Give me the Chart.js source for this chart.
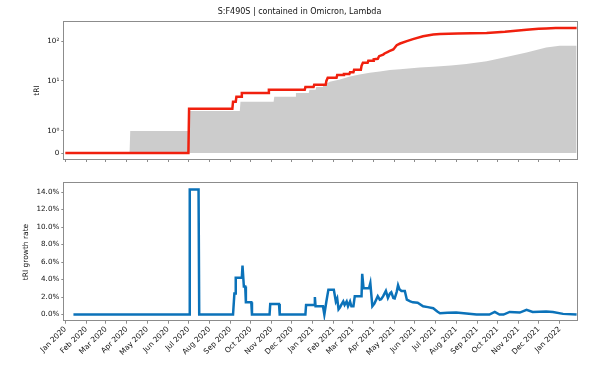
<!DOCTYPE html>
<html lang="en">
<head>
  <meta charset="UTF-8" />
  <title>S:F490S | tRI</title>
  <script src="https://cdn.jsdelivr.net/npm/chart.js"></script>
  <style>
    body { margin: 0; background: #fff; }
    canvas { display: block; }
  </style>
</head>
<body>
  <canvas id="triChart" width="599" height="170"></canvas>
  <canvas id="growthChart" width="599" height="209"></canvas>

  <script>
    // ---- data ----
    const chartTitle = 'S:F490S | contained in Omicron, Lambda';

    const xTickDates = ['2020-01-01', '2020-02-01', '2020-03-01', '2020-04-01', '2020-05-01', '2020-06-01',
      '2020-07-01', '2020-08-01', '2020-09-01', '2020-10-01', '2020-11-01', '2020-12-01',
      '2021-01-01', '2021-02-01', '2021-03-01', '2021-04-01', '2021-05-01', '2021-06-01',
      '2021-07-01', '2021-08-01', '2021-09-01', '2021-10-01', '2021-11-01', '2021-12-01', '2022-01-01'];
    const xTickLabels = ['Jan 2020', 'Feb 2020', 'Mar 2020', 'Apr 2020', 'May 2020', 'Jun 2020',
      'Jul 2020', 'Aug 2020', 'Sep 2020', 'Oct 2020', 'Nov 2020', 'Dec 2020',
      'Jan 2021', 'Feb 2021', 'Mar 2021', 'Apr 2021', 'May 2021', 'Jun 2021',
      'Jul 2021', 'Aug 2021', 'Sep 2021', 'Oct 2021', 'Nov 2021', 'Dec 2021', 'Jan 2022'];

    // observed tRI (red)
    const triDates = ['2020-01-01', '2020-07-01', '2020-07-02', '2020-09-04', '2020-09-05', '2020-09-09', '2020-09-10',
      '2020-09-17', '2020-09-18', '2020-10-27', '2020-10-28', '2020-12-20', '2020-12-21', '2021-01-02', '2021-01-03',
      '2021-01-20', '2021-01-21', '2021-01-23', '2021-02-05', '2021-02-06', '2021-02-15', '2021-02-16', '2021-02-24',
      '2021-02-25', '2021-03-02', '2021-03-03', '2021-03-13', '2021-03-14', '2021-03-16', '2021-03-23', '2021-03-24',
      '2021-03-31', '2021-04-01', '2021-04-07', '2021-04-09', '2021-04-15', '2021-04-17', '2021-04-22', '2021-04-24',
      '2021-04-30', '2021-05-02', '2021-05-05', '2021-05-10', '2021-05-20', '2021-05-29', '2021-06-13', '2021-06-28',
      '2021-07-08', '2021-08-03', '2021-08-23', '2021-09-15', '2021-10-12', '2021-11-13', '2021-12-01', '2021-12-12',
      '2021-12-26', '2022-01-26'];
    const triValues = [0, 0, 2, 2, 3, 3, 4,
      4, 5, 5, 6, 6, 7, 7, 8,
      8, 10, 12, 12, 14, 14, 15, 15,
      16.5, 16.5, 19, 19, 24, 28.5, 28.5, 32,
      32, 35, 36, 42, 46, 49, 54, 56,
      62, 68, 79, 87, 100, 112, 132, 146,
      151, 155, 157, 161, 172, 192, 203, 208,
      212, 214];

    // expected tRI (grey area)
    const expDates = ['2020-01-01', '2020-04-05', '2020-04-06', '2020-07-01', '2020-07-02', '2020-09-15', '2020-09-16',
      '2020-11-04', '2020-11-05', '2020-12-06', '2020-12-07', '2020-12-26', '2020-12-27', '2021-01-05', '2021-01-06',
      '2021-01-15', '2021-01-16', '2021-01-20', '2021-01-26', '2021-02-10', '2021-02-25', '2021-03-11', '2021-03-26',
      '2021-04-10', '2021-04-25', '2021-05-10', '2021-06-08', '2021-06-28', '2021-07-24', '2021-08-16', '2021-09-15',
      '2021-10-14', '2021-11-13', '2021-12-12', '2022-01-01', '2022-01-26'];
    const expValues = [0, 0, 1, 1, 1.9, 1.9, 3,
      3, 4, 4, 5, 5, 6, 6, 7,
      7, 8, 8.2, 9.5, 10.8, 13, 14.5, 16,
      17.3, 18.7, 19.8, 21.8, 22.8, 24.3, 26.5, 31.4,
      40, 52, 69, 76, 77];
    const triTicks = [0, 1, 10, 100];
    const triTickLabels = ['0', '10\u2070', '10\u00b9', '10\u00b2'];

    // tRI growth rate (%)
    const rateDates = ['2020-01-13', '2020-07-02', '2020-07-03', '2020-07-16', '2020-07-17', '2020-09-05', '2020-09-07',
      '2020-09-08', '2020-09-09', '2020-09-18', '2020-09-19', '2020-09-21', '2020-09-23', '2020-09-24', '2020-10-02',
      '2020-10-03', '2020-10-29', '2020-10-30', '2020-11-12', '2020-11-13', '2020-12-21', '2020-12-22', '2021-01-03',
      '2021-01-04', '2021-01-05', '2021-01-16', '2021-01-18', '2021-01-21', '2021-01-24', '2021-02-01', '2021-02-04',
      '2021-02-06', '2021-02-08', '2021-02-10', '2021-02-12', '2021-02-15', '2021-02-17', '2021-02-20', '2021-02-22',
      '2021-02-25', '2021-02-27', '2021-03-02', '2021-03-04', '2021-03-14', '2021-03-15', '2021-03-17', '2021-03-25',
      '2021-03-27', '2021-03-30', '2021-04-02', '2021-04-07', '2021-04-10', '2021-04-12', '2021-04-15', '2021-04-19',
      '2021-04-22', '2021-04-25', '2021-04-27', '2021-04-30', '2021-05-02', '2021-05-05', '2021-05-07', '2021-05-09',
      '2021-05-12', '2021-05-17', '2021-05-20', '2021-05-25', '2021-05-29', '2021-06-05', '2021-06-13', '2021-06-20',
      '2021-06-28', '2021-07-04', '2021-07-08', '2021-07-19', '2021-08-01', '2021-08-16', '2021-08-31', '2021-09-19',
      '2021-09-27', '2021-10-04', '2021-10-10', '2021-10-19', '2021-11-03', '2021-11-13', '2021-11-22', '2021-12-12',
      '2021-12-22', '2022-01-06', '2022-01-26'];
    const rateValues = [0, 0, 14.29, 14.29, 0, 0, 2.4,
      2.4, 4.2, 4.2, 5.6, 3.2, 3.2, 1.4, 1.4,
      0, 0, 1.2, 1.2, 0, 0, 1.1, 1.1,
      2.0, 0.95, 0.95, 0, 1.5, 2.85, 2.85, 1.5,
      1.85, 0.6, 0.8, 1.1, 1.5, 1.1, 1.5, 0.95,
      1.5, 0.95, 0.95, 2.1, 2.1, 4.65, 3.0, 3.0,
      3.6, 0.95, 1.25, 2.1, 1.7, 1.75, 2.1, 2.7,
      1.9, 2.4, 2.55, 1.9, 1.85, 2.6, 3.35, 2.9,
      2.7, 2.7, 1.7, 1.5, 1.4, 1.35, 0.95, 0.85,
      0.72, 0.35, 0.15, 0.2, 0.23, 0.12, 0, 0,
      0.3, 0, 0, 0.3, 0.23, 0.53, 0.3, 0.34,
      0.3, 0.08, 0];
    const rateTicks = [0, 2, 4, 6, 8, 10, 12, 14];

    // ---- helpers ----
    const FONT = 'DejaVu Sans';
    const X_MIN = Date.UTC(2019, 11, 30, 12);
    const X_MAX = Date.UTC(2022, 0, 26, 14);

    const toPoints = (dates, values) => dates.map((d, i) => ({ x: Date.parse(d), y: values[i] }));

    // matplotlib style symlog, linthresh 2, base 10
    const LINTHRESH = 2;
    const LINSCALE = 1 / (1 - 1 / 10);
    function symlog(v) {
      const a = Math.abs(v);
      if (a <= LINTHRESH) return v * LINSCALE;
      return Math.sign(v) * LINTHRESH * (LINSCALE + Math.log10(a / LINTHRESH));
    }
    function symexp(t) {
      const a = Math.abs(t);
      if (a <= LINTHRESH * LINSCALE) return t / LINSCALE;
      return Math.sign(t) * LINTHRESH * Math.pow(10, a / LINTHRESH - LINSCALE);
    }

    class SymlogScale extends Chart.LinearScale {
      buildTicks() {
        return triTicks.map(v => ({ value: v }));
      }
      configure() {
        super.configure();
        this._tMin = symlog(this.min);
        this._tMax = symlog(this.max);
      }
      getPixelForValue(value) {
        return this.getPixelForDecimal((symlog(value) - this._tMin) / (this._tMax - this._tMin));
      }
      getValueForPixel(pixel) {
        return symexp(this._tMin + this.getDecimalForPixel(pixel) * (this._tMax - this._tMin));
      }
    }
    SymlogScale.id = 'symlog';
    SymlogScale.defaults = {};
    Chart.register(SymlogScale);

    // box around the plot area, like matplotlib spines
    const framePlugin = {
      id: 'frame',
      afterDraw(chart) {
        const { ctx, chartArea: a } = chart;
        ctx.save();
        ctx.strokeStyle = '#8c8c8c';
        ctx.lineWidth = 1;
        ctx.strokeRect(Math.round(a.left) - 0.5, Math.round(a.top) - 0.5,
          Math.round(a.right - a.left) + 1, Math.round(a.bottom - a.top) + 1);
        ctx.restore();
      }
    };

    const tickFont = { family: FONT, size: 7.2 };
    const labelFont = { family: FONT, size: 7.5 };
    const tickGrid = { drawOnChartArea: false, drawTicks: true, tickLength: 3, tickColor: '#8c8c8c' };

    function xAxis(showLabels, height) {
      return {
        type: 'linear',
        min: X_MIN,
        max: X_MAX,
        afterBuildTicks: s => { s.ticks = xTickDates.map(d => ({ value: Date.parse(d) })); },
        afterFit: s => { s.height = height; },
        border: { display: false },
        grid: tickGrid,
        ticks: {
          display: showLabels,
          autoSkip: false,
          minRotation: 45,
          maxRotation: 45,
          padding: 1,
          font: { family: FONT, size: 7.5 },
          color: '#111',
          callback: (v, i) => xTickLabels[i]
        }
      };
    }

    // empty strip on the right, keeps the title centred on the whole figure
    const rightGap = {
      position: 'right',
      afterFit: s => { s.width = 22; },
      grid: { display: false },
      border: { display: false },
      ticks: { display: false }
    };

    // ---- top: tRI, symlog ----
    new Chart(document.getElementById('triChart'), {
      type: 'line',
      data: {
        datasets: [
          {
            label: 'tRI',
            data: toPoints(triDates, triValues),
            borderColor: '#f0200e',
            borderWidth: 2.5,
            pointRadius: 0,
            fill: false
          },
          {
            label: 'expected',
            data: toPoints(expDates, expValues),
            borderColor: 'rgba(0,0,0,0)',
            borderWidth: 0,
            backgroundColor: '#cccccc',
            pointRadius: 0,
            fill: 'origin'
          }
        ]
      },
      options: {
        responsive: false,
        animation: false,
        layout: { padding: 0 },
        plugins: {
          legend: { display: false },
          tooltip: { enabled: false },
          title: {
            display: true,
            text: chartTitle,
            color: '#111',
            font: { family: FONT, size: 8.0, weight: 'normal' },
            padding: { top: 7.2, bottom: 5.2 }
          }
        },
        scales: {
          x: xAxis(false, 11),
          y: {
            type: 'symlog',
            min: -0.27,
            max: 302,
            afterFit: s => { s.width = 64.3; },
            border: { display: false },
            grid: tickGrid,
            ticks: {
              autoSkip: false,
              padding: 2,
              font: tickFont,
              color: '#111',
              callback: (v, i) => triTickLabels[i]
            },
            title: {
              display: true,
              text: 'tRI',
              color: '#111',
              font: labelFont,
              padding: { top: 32.2, bottom: 0 }
            }
          },
          gap: rightGap
        }
      },
      plugins: [framePlugin]
    });

    // ---- bottom: tRI growth rate ----
    new Chart(document.getElementById('growthChart'), {
      type: 'line',
      data: {
        datasets: [{
          label: 'tRI growth rate',
          data: toPoints(rateDates, rateValues),
          borderColor: '#0b72b9',
          borderWidth: 2.5,
          pointRadius: 0,
          fill: false
        }]
      },
      options: {
        responsive: false,
        animation: false,
        layout: { padding: { left: 0, right: 0, top: 13.3, bottom: 0 } },
        plugins: {
          legend: { display: false },
          tooltip: { enabled: false }
        },
        scales: {
          x: xAxis(true, 58.3),
          y: {
            type: 'linear',
            min: -0.7,
            max: 15.0,
            afterBuildTicks: s => { s.ticks = rateTicks.map(v => ({ value: v })); },
            afterFit: s => { s.width = 64.3; },
            border: { display: false },
            grid: tickGrid,
            ticks: {
              autoSkip: false,
              padding: 2,
              font: tickFont,
              color: '#111',
              callback: v => v.toFixed(1) + '%'
            },
            title: {
              display: true,
              text: 'tRI growth rate',
              color: '#111',
              font: labelFont,
              padding: { top: 21.2, bottom: 0 }
            }
          },
          gap: rightGap
        }
      },
      plugins: [framePlugin]
    });
  </script>
</body>
</html>
